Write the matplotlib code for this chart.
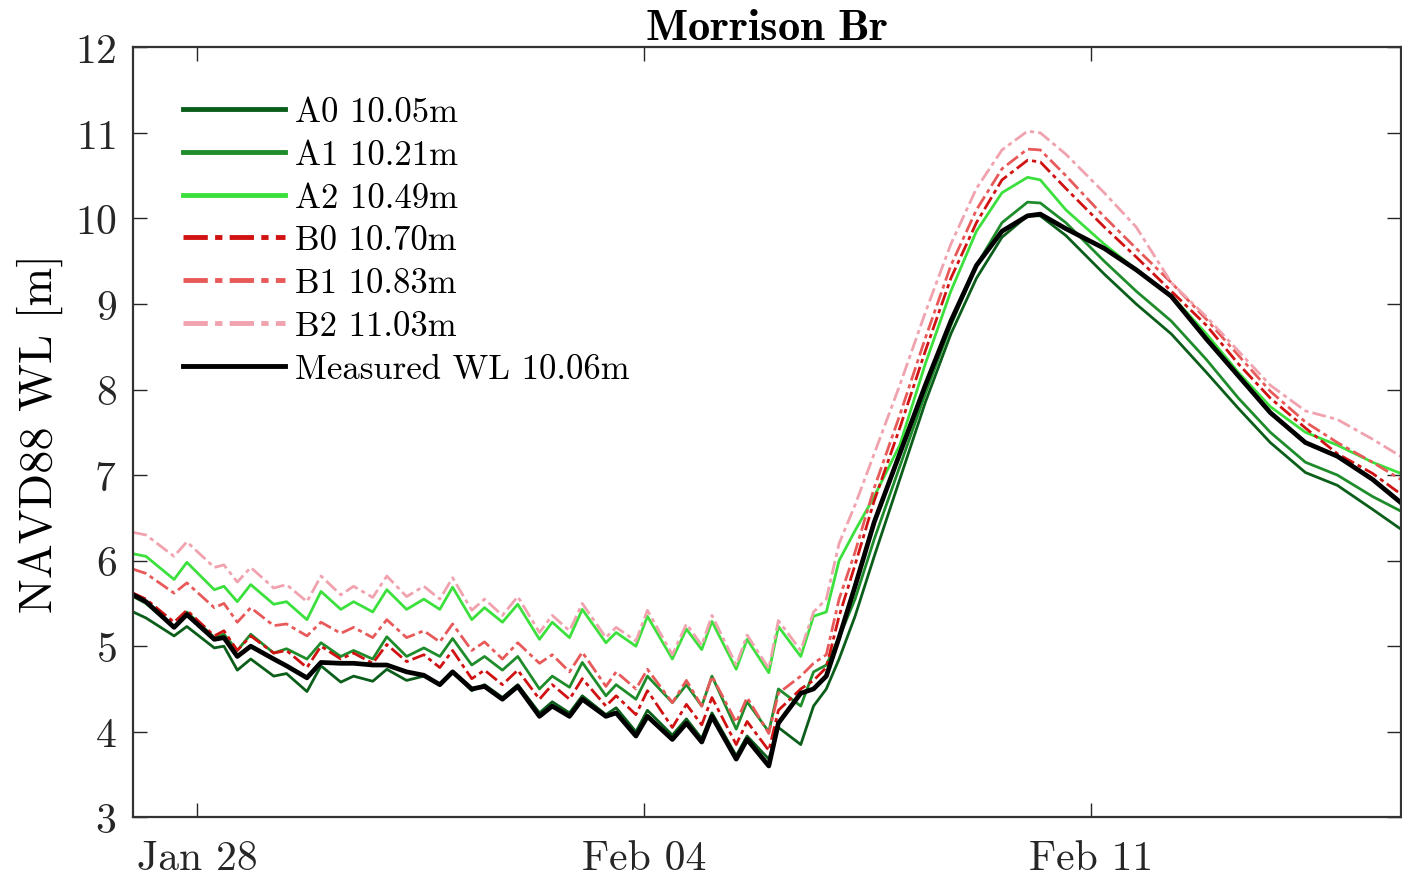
import numpy as np
import pandas as pd
import matplotlib
matplotlib.use("Agg")
import matplotlib.pyplot as plt
import matplotlib.dates as mdates

plt.rcParams['font.family'] = 'serif'
plt.rcParams['font.serif'] = ['cmr10']
plt.rcParams['mathtext.fontset'] = 'cm'
plt.rcParams['axes.unicode_minus'] = False
plt.rcParams['axes.formatter.use_mathtext'] = True

# time in days since Jan 27 00:00
t_days = [0.00, 0.20, 0.64, 0.84, 1.27, 1.42, 1.63, 1.84, 2.20, 2.40,
          2.72, 2.94, 3.25, 3.45, 3.75, 3.97, 4.28, 4.55, 4.80, 5.00,
          5.30, 5.50, 5.78, 6.02, 6.36, 6.56, 6.83, 7.03, 7.40, 7.56,
          7.87, 8.05, 8.44, 8.66, 8.90, 9.06, 9.44, 9.61, 9.95, 10.10,
          10.45, 10.65, 10.85, 11.05, 11.30, 11.60, 12.00, 12.40, 12.80, 13.20,
          13.60, 14.00, 14.20, 14.60, 15.20, 15.70, 16.25, 16.80, 17.30, 17.80,
          18.35, 18.85, 19.40, 19.84]

a0 = [5.40, 5.33, 5.12, 5.23, 4.98, 5.00, 4.72, 4.85, 4.65, 4.68,
      4.47, 4.77, 4.58, 4.65, 4.59, 4.73, 4.60, 4.65, 4.55, 4.70,
      4.48, 4.55, 4.40, 4.55, 4.22, 4.35, 4.22, 4.42, 4.20, 4.28,
      4.00, 4.25, 3.96, 4.15, 3.92, 4.22, 3.72, 3.95, 3.68, 4.05,
      3.85, 4.30, 4.50, 4.85, 5.35, 6.05, 6.95, 7.85, 8.65, 9.30,
      9.78, 10.03, 10.03, 9.80, 9.35, 9.00, 8.65, 8.20, 7.78, 7.38,
      7.03, 6.88, 6.60, 6.37]

a1 = [5.58, 5.50, 5.22, 5.40, 5.10, 5.14, 4.95, 5.14, 4.92, 4.97,
      4.85, 5.04, 4.88, 4.95, 4.85, 5.11, 4.88, 4.98, 4.88, 5.09,
      4.78, 4.88, 4.72, 4.88, 4.50, 4.65, 4.52, 4.81, 4.42, 4.55,
      4.38, 4.65, 4.34, 4.55, 4.30, 4.65, 4.03, 4.35, 4.00, 4.50,
      4.30, 4.70, 4.78, 5.10, 5.55, 6.25, 7.10, 7.95, 8.75, 9.45,
      9.95, 10.19, 10.18, 9.95, 9.50, 9.15, 8.80, 8.35, 7.90, 7.50,
      7.15, 7.00, 6.75, 6.58]

a2 = [6.08, 6.05, 5.78, 5.98, 5.66, 5.70, 5.52, 5.72, 5.49, 5.52,
      5.31, 5.64, 5.43, 5.52, 5.40, 5.66, 5.43, 5.55, 5.43, 5.69,
      5.31, 5.45, 5.28, 5.49, 5.08, 5.28, 5.10, 5.43, 5.04, 5.16,
      5.00, 5.35, 4.85, 5.20, 4.96, 5.29, 4.73, 5.08, 4.69, 5.23,
      4.88, 5.35, 5.40, 6.00, 6.35, 6.75, 7.35, 8.30, 9.15, 9.85,
      10.30, 10.48, 10.45, 10.10, 9.70, 9.40, 9.10, 8.65, 8.20, 7.80,
      7.50, 7.35, 7.15, 7.02]

b0 = [5.62, 5.55, 5.28, 5.42, 5.12, 5.18, 4.95, 5.12, 4.92, 4.95,
      4.75, 5.00, 4.85, 4.92, 4.80, 5.02, 4.82, 4.90, 4.75, 4.95,
      4.62, 4.72, 4.55, 4.72, 4.38, 4.55, 4.38, 4.62, 4.30, 4.42,
      4.20, 4.48, 4.05, 4.32, 4.08, 4.40, 3.85, 4.12, 3.78, 4.25,
      4.50, 4.60, 4.75, 5.35, 5.95, 6.70, 7.55, 8.45, 9.30, 9.95,
      10.45, 10.68, 10.66, 10.35, 9.90, 9.55, 9.15, 8.75, 8.30, 7.90,
      7.55, 7.25, 7.02, 6.78]

b1 = [5.90, 5.85, 5.62, 5.74, 5.45, 5.50, 5.28, 5.45, 5.24, 5.26,
      5.12, 5.28, 5.15, 5.22, 5.10, 5.31, 5.10, 5.18, 5.05, 5.26,
      4.95, 5.05, 4.85, 5.04, 4.80, 4.90, 4.70, 4.93, 4.53, 4.70,
      4.50, 4.73, 4.34, 4.60, 4.30, 4.65, 4.11, 4.40, 3.98, 4.45,
      4.65, 4.80, 4.90, 5.55, 6.10, 6.85, 7.70, 8.60, 9.45, 10.10,
      10.58, 10.81, 10.80, 10.50, 10.02, 9.65, 9.25, 8.82, 8.40, 7.98,
      7.62, 7.38, 7.15, 6.95]

b2 = [6.33, 6.30, 6.05, 6.22, 5.92, 5.95, 5.75, 5.92, 5.68, 5.72,
      5.52, 5.82, 5.60, 5.70, 5.57, 5.82, 5.58, 5.70, 5.55, 5.80,
      5.42, 5.55, 5.36, 5.58, 5.16, 5.36, 5.18, 5.50, 5.10, 5.22,
      5.06, 5.42, 4.90, 5.26, 5.01, 5.36, 4.78, 5.13, 4.74, 5.30,
      4.95, 5.40, 5.55, 6.20, 6.65, 7.25, 8.05, 8.90, 9.70, 10.35,
      10.80, 11.02, 11.00, 10.75, 10.30, 9.90, 9.25, 8.85, 8.45, 8.05,
      7.75, 7.65, 7.42, 7.22]

measured = [5.60, 5.52, 5.22, 5.37, 5.08, 5.10, 4.88, 5.00, 4.85, 4.77,
            4.63, 4.81, 4.80, 4.80, 4.78, 4.78, 4.70, 4.66, 4.55, 4.70,
            4.50, 4.53, 4.38, 4.53, 4.18, 4.30, 4.18, 4.38, 4.18, 4.22,
            3.95, 4.18, 3.91, 4.10, 3.88, 4.18, 3.68, 3.91, 3.60, 4.10,
            4.45, 4.50, 4.65, 5.10, 5.70, 6.45, 7.25, 8.05, 8.80, 9.45,
            9.85, 10.03, 10.05, 9.88, 9.65, 9.40, 9.09, 8.59, 8.16, 7.73,
            7.38, 7.22, 6.95, 6.68]

labels = ['A0 10.05m', 'A1 10.21m', 'A2 10.49m', 'B0 10.70m',
          'B1 10.83m', 'B2 11.03m', 'Measured WL 10.06m']

start = pd.Timestamp('2019-01-27')
time = start + pd.to_timedelta(t_days, unit='D')

fig = plt.figure(figsize=(14.02, 8.78), dpi=100)
ax = fig.add_axes([0.095, 0.068, 0.904, 0.877])

dashdot = (5, 1.5, 1.5, 1.5)
ax.plot(time, a0, color='#0b5e1a', lw=2.0, label=labels[0])
ax.plot(time, a1, color='#1f8c2b', lw=2.0, label=labels[1])
ax.plot(time, a2, color='#3ce03c', lw=2.0, label=labels[2])
ax.plot(time, b0, color='#d01212', lw=2.0, dashes=dashdot, label=labels[3])
ax.plot(time, b1, color='#e85a5a', lw=2.0, dashes=dashdot, label=labels[4])
ax.plot(time, b2, color='#f0a2ae', lw=2.0, dashes=dashdot, label=labels[5])
ax.plot(time, measured, color='black', lw=3.4, label=labels[6])

ax.set_xlim(start, start + pd.Timedelta(days=19.84))
ax.set_ylim(3, 12)
ax.set_yticks(range(3, 13))
ax.set_xticks([pd.Timestamp('2019-01-28'), pd.Timestamp('2019-02-04'),
               pd.Timestamp('2019-02-11')])
ax.xaxis.set_major_formatter(mdates.DateFormatter('%b %d'))

ax.tick_params(direction='in', length=10, width=1.0, top=True, right=True,
               labelsize=30, colors='#262626')
ax.tick_params(axis='x', pad=16)
ax.tick_params(axis='y', pad=12)
for s in ax.spines.values():
    s.set_color('#333333')
    s.set_linewidth(1.6)

ax.set_ylabel('NAVD88 WL [m]', fontsize=33.5, labelpad=8)
ax.set_title(r'$\mathbf{Morrison\ Br}$', fontsize=32, pad=6)

leg = ax.legend(loc='upper left', bbox_to_anchor=(0.039, 0.936), frameon=False,
                fontsize=25, handlelength=2.95, handletextpad=0.3,
                labelspacing=0.32, borderpad=0, borderaxespad=0)
for h in leg.get_lines():
    h.set_linewidth(3.5)

fig.savefig('out.png', dpi=100)
